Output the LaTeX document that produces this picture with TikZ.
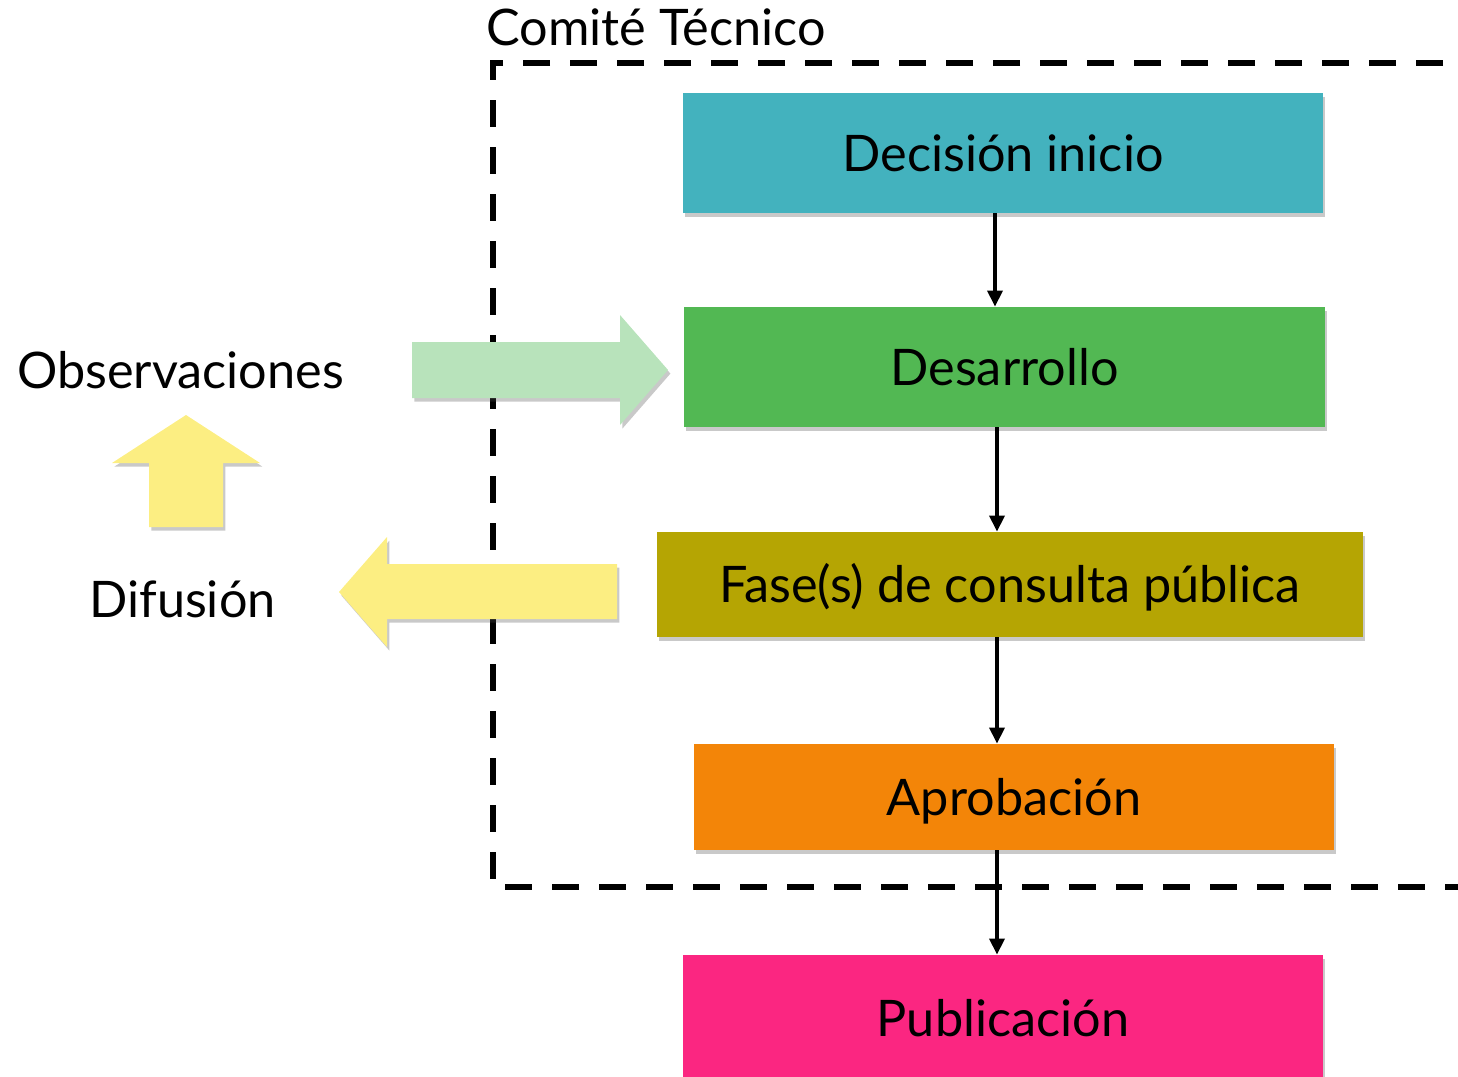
\documentclass[tikz,border=0pt]{standalone}
\usepackage{fontspec}
\setmainfont{Lato}
\usetikzlibrary{shadows,arrows.meta}
\definecolor{cteal}{HTML}{43B2BE}
\definecolor{cgreen}{HTML}{52B853}
\definecolor{colive}{HTML}{B5A503}
\definecolor{corange}{HTML}{F38508}
\definecolor{cpink}{HTML}{FB2681}
\definecolor{clgreen}{HTML}{B8E3BB}
\definecolor{cyellow}{HTML}{FCEE82}
\tikzset{
  shade1/.style={drop shadow={shadow xshift=1.2pt,shadow yshift=-1.8pt,opacity=0.3,fill=black!70}},
  boxnode/.style={rectangle,inner sep=0pt,shade1,text height=18pt,text depth=0pt,
    font=\fontsize{25.2}{29}\selectfont},
  lbl/.style={inner sep=0pt,font=\fontsize{25.2}{29}\selectfont},
  conn/.style={line width=1.7pt,-{Triangle[length=8pt,width=7.5pt]}},
  dashbox/.style={line width=3.25pt,dash pattern=on 13.5pt off 10pt},
  blockarrow/.style={shade1}
}
\begin{document}
\begin{tikzpicture}[x=0.5pt,y=-0.5pt]
\useasboundingbox (0,0) rectangle (1458,1077);
\clip (0,0) rectangle (1458,1077);
% committee frame
\draw[dashbox] (1490,63) -- (493,63) -- (493,887) -- (1490,887);
\node[lbl,anchor=base west] (ct) at (486,45) {Comité Técnico};
% boxes
\node[boxnode,fill=cteal,minimum width=320pt,minimum height=60pt] (dec) at (1003,153) {Decisión inicio};
\node[boxnode,fill=cgreen,minimum width=320.5pt,minimum height=60pt] (des) at (1004.5,367) {Desarrollo};
\node[boxnode,fill=colive,minimum width=353pt,minimum height=52.5pt] (fase) at (1010,584.5) {Fase(s) de consulta pública};
\node[boxnode,fill=corange,minimum width=320pt,minimum height=53pt] (apr) at (1014,797) {Aprobación};
\node[boxnode,fill=cpink,minimum width=320pt,minimum height=63pt] (pub) at (1003,1018) {Publicación};
% connectors
\draw[conn] ([xshift=-4pt]dec.south) -- ([xshift=-4pt]dec.south |- des.north);
\draw[conn] ([xshift=-3.75pt]des.south) -- ([xshift=-3.75pt]des.south |- fase.north);
\draw[conn] ([xshift=-6.5pt]fase.south) -- ([xshift=-6.5pt]fase.south |- apr.north);
\draw[conn] ([xshift=-8.5pt]apr.south) -- ([xshift=-8.5pt]apr.south |- pub.north);
% block arrows
\fill[clgreen,blockarrow] (412,342) -- (620,342) -- (620,315) -- (668,370) -- (620,425) -- (620,398) -- (412,398) -- cycle;
\fill[cyellow,blockarrow] (617,564) -- (387,564) -- (387,537) -- (339,592) -- (387,647) -- (387,619) -- (617,619) -- cycle;
\fill[cyellow,blockarrow] (149,527) -- (149,463) -- (112,463) -- (186,415) -- (260,463) -- (223,463) -- (223,527) -- cycle;
% side labels
\node[lbl,anchor=base] (obs) at (180.5,388) {Observaciones};
\node[lbl,anchor=base] (dif) at (182.5,617) {Difusión};
\end{tikzpicture}
\end{document}
